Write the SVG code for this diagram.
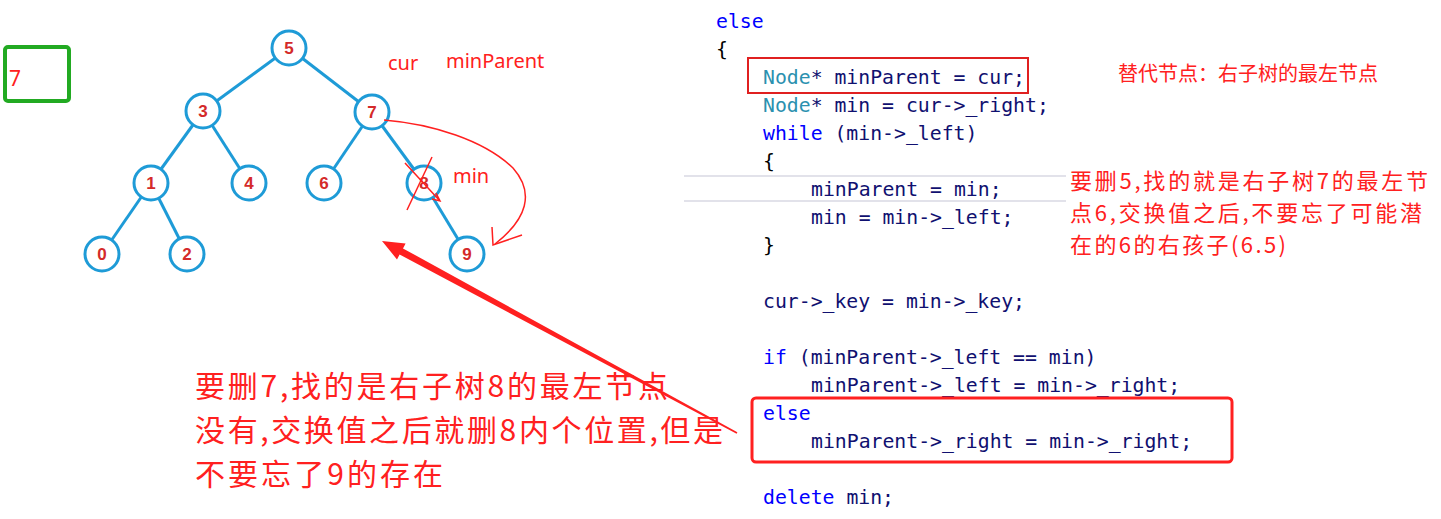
<svg xmlns="http://www.w3.org/2000/svg" width="1441" height="519" viewBox="0 0 1441 519">
<style>
.edge{stroke:#1e9bd7;stroke-width:3;fill:none}
.node circle{fill:#fff;stroke:#1e9bd7;stroke-width:3}
.node text{font-family:"Liberation Sans",Arial,sans-serif;font-weight:bold;font-size:17px;fill:#d42a2a;text-anchor:middle}
.ann{font-family:"Noto Sans","Noto Sans CJK SC",sans-serif;fill:#ff2020}
.cjk{font-family:"Noto Sans CJK SC",sans-serif;fill:#ff2020}
.code{font-family:"DejaVu Sans Mono","Liberation Mono",monospace;font-size:19.8px;fill:#101070}
.kw{fill:#0000ff}
.ty{fill:#2b91af}
.br{fill:#000}
.redline{stroke:#ff2020;fill:none}
</style>
<rect width="1441" height="519" fill="#fff"/>

<g id="tree-edges">
<line class="edge" x1="289" y1="48" x2="203" y2="111"/>
<line class="edge" x1="289" y1="48" x2="372" y2="112"/>
<line class="edge" x1="203" y1="111" x2="151" y2="183"/>
<line class="edge" x1="203" y1="111" x2="249" y2="183"/>
<line class="edge" x1="372" y1="112" x2="324" y2="183"/>
<line class="edge" x1="372" y1="112" x2="424" y2="183"/>
<line class="edge" x1="151" y1="183" x2="102" y2="254"/>
<line class="edge" x1="151" y1="183" x2="187" y2="254"/>
<line class="edge" x1="424" y1="183" x2="467" y2="254"/>
</g>

<g id="n5" class="node"><circle cx="289" cy="48" r="17"/><text x="289" y="54">5</text></g>
<g id="n3" class="node"><circle cx="203" cy="111" r="17"/><text x="203" y="117">3</text></g>
<g id="n7" class="node"><circle cx="372" cy="112" r="17"/><text x="372" y="118">7</text></g>
<g id="n1" class="node"><circle cx="151" cy="183" r="17"/><text x="151" y="189">1</text></g>
<g id="n4" class="node"><circle cx="249" cy="183" r="17"/><text x="249" y="189">4</text></g>
<g id="n6" class="node"><circle cx="324" cy="183" r="17"/><text x="324" y="189">6</text></g>
<g id="n8" class="node"><circle cx="424" cy="183" r="17"/><text x="424" y="189">8</text></g>
<g id="n0" class="node"><circle cx="102" cy="254" r="17"/><text x="102" y="260">0</text></g>
<g id="n2" class="node"><circle cx="187" cy="254" r="17"/><text x="187" y="260">2</text></g>
<g id="n9" class="node"><circle cx="467" cy="254" r="17"/><text x="467" y="260">9</text></g>

<g id="box7">
<rect x="5" y="47" width="64" height="54" rx="3" fill="none" stroke="#22aa22" stroke-width="4"/>
<text class="ann" x="9" y="86" font-size="21">7</text>
</g>

<g id="labels">
<text class="ann" x="388" y="70" font-size="20">cur</text>
<text class="ann" x="446" y="68" font-size="20">minParent</text>
<text class="ann" x="453" y="183" font-size="20">min</text>
</g>

<g id="annotation-marks">
<path class="redline" stroke-width="1.5" d="M384,120 C432,124 484,140 513,168 C535,193 527,219 495,244"/>
<path class="redline" stroke-width="1.5" d="M492,227 L493,245 L522,235"/>
<path class="redline" stroke-width="1.5" d="M405,163 L440,201 M436,193 L440,201 L432,199"/>
<path class="redline" stroke-width="1.5" d="M432,157 L407,210"/>
</g>

<g id="connectors">
<polygon fill="#ff2020" points="382,241 405.6,243.6 403,248.4 737.4,432.3 736.6,433.7 399.6,254.6 397,259.4"/>
</g>

<g id="note-left">
<text class="cjk" font-size="30" x="195" y="397" textLength="473" lengthAdjust="spacing">要删7,找的是右子树8的最左节点</text>
<text class="cjk" font-size="30" x="195" y="441" textLength="528" lengthAdjust="spacing">没有,交换值之后就删8内个位置,但是</text>
<text class="cjk" font-size="30" x="195" y="485" textLength="248" lengthAdjust="spacing">不要忘了9的存在</text>
</g>

<g id="code-bg">
<line x1="684" y1="176" x2="1066" y2="176" stroke="#e2e2ea" stroke-width="2"/>
<line x1="684" y1="201" x2="1066" y2="201" stroke="#e2e2ea" stroke-width="2"/>
</g>

<g id="code">
<text class="code kw" x="716" y="28">else</text>
<text class="code br" x="716" y="56">{</text>
<text class="code" x="763" y="84"><tspan class="ty">Node</tspan>* minParent = cur;</text>
<text class="code" x="763" y="112"><tspan class="ty">Node</tspan>* min = cur-&gt;_right;</text>
<text class="code" x="763" y="140"><tspan class="kw">while</tspan> (min-&gt;_left)</text>
<text class="code br" x="763" y="168">{</text>
<text class="code" x="811" y="196">minParent = min;</text>
<text class="code" x="811" y="224">min = min-&gt;_left;</text>
<text class="code br" x="763" y="252">}</text>
<text class="code" x="763" y="308">cur-&gt;_key = min-&gt;_key;</text>
<text class="code" x="763" y="364"><tspan class="kw">if</tspan> (minParent-&gt;_left == min)</text>
<text class="code" x="811" y="392">minParent-&gt;_left = min-&gt;_right;</text>
<text class="code kw" x="763" y="420">else</text>
<text class="code" x="811" y="448">minParent-&gt;_right = min-&gt;_right;</text>
<text class="code" x="763" y="504"><tspan class="kw">delete</tspan> min;</text>
</g>

<g id="boxes">
<rect x="748" y="58" width="280" height="35" fill="none" stroke="#e02020" stroke-width="2"/>
<rect x="752" y="398" width="480" height="64" rx="4" fill="none" stroke="#ff2020" stroke-width="3"/>
</g>

<g id="note-right">
<text class="cjk" font-size="20" x="1118" y="81">替代节点：右子树的最左节点</text>
<text class="cjk" font-size="22" x="1070" y="189" textLength="358" lengthAdjust="spacing">要删5,找的就是右子树7的最左节</text>
<text class="cjk" font-size="22" x="1070" y="221" textLength="352" lengthAdjust="spacing">点6,交换值之后,不要忘了可能潜</text>
<text class="cjk" font-size="22" x="1070" y="253" textLength="216" lengthAdjust="spacing">在的6的右孩子(6.5)</text>
</g>
</svg>
